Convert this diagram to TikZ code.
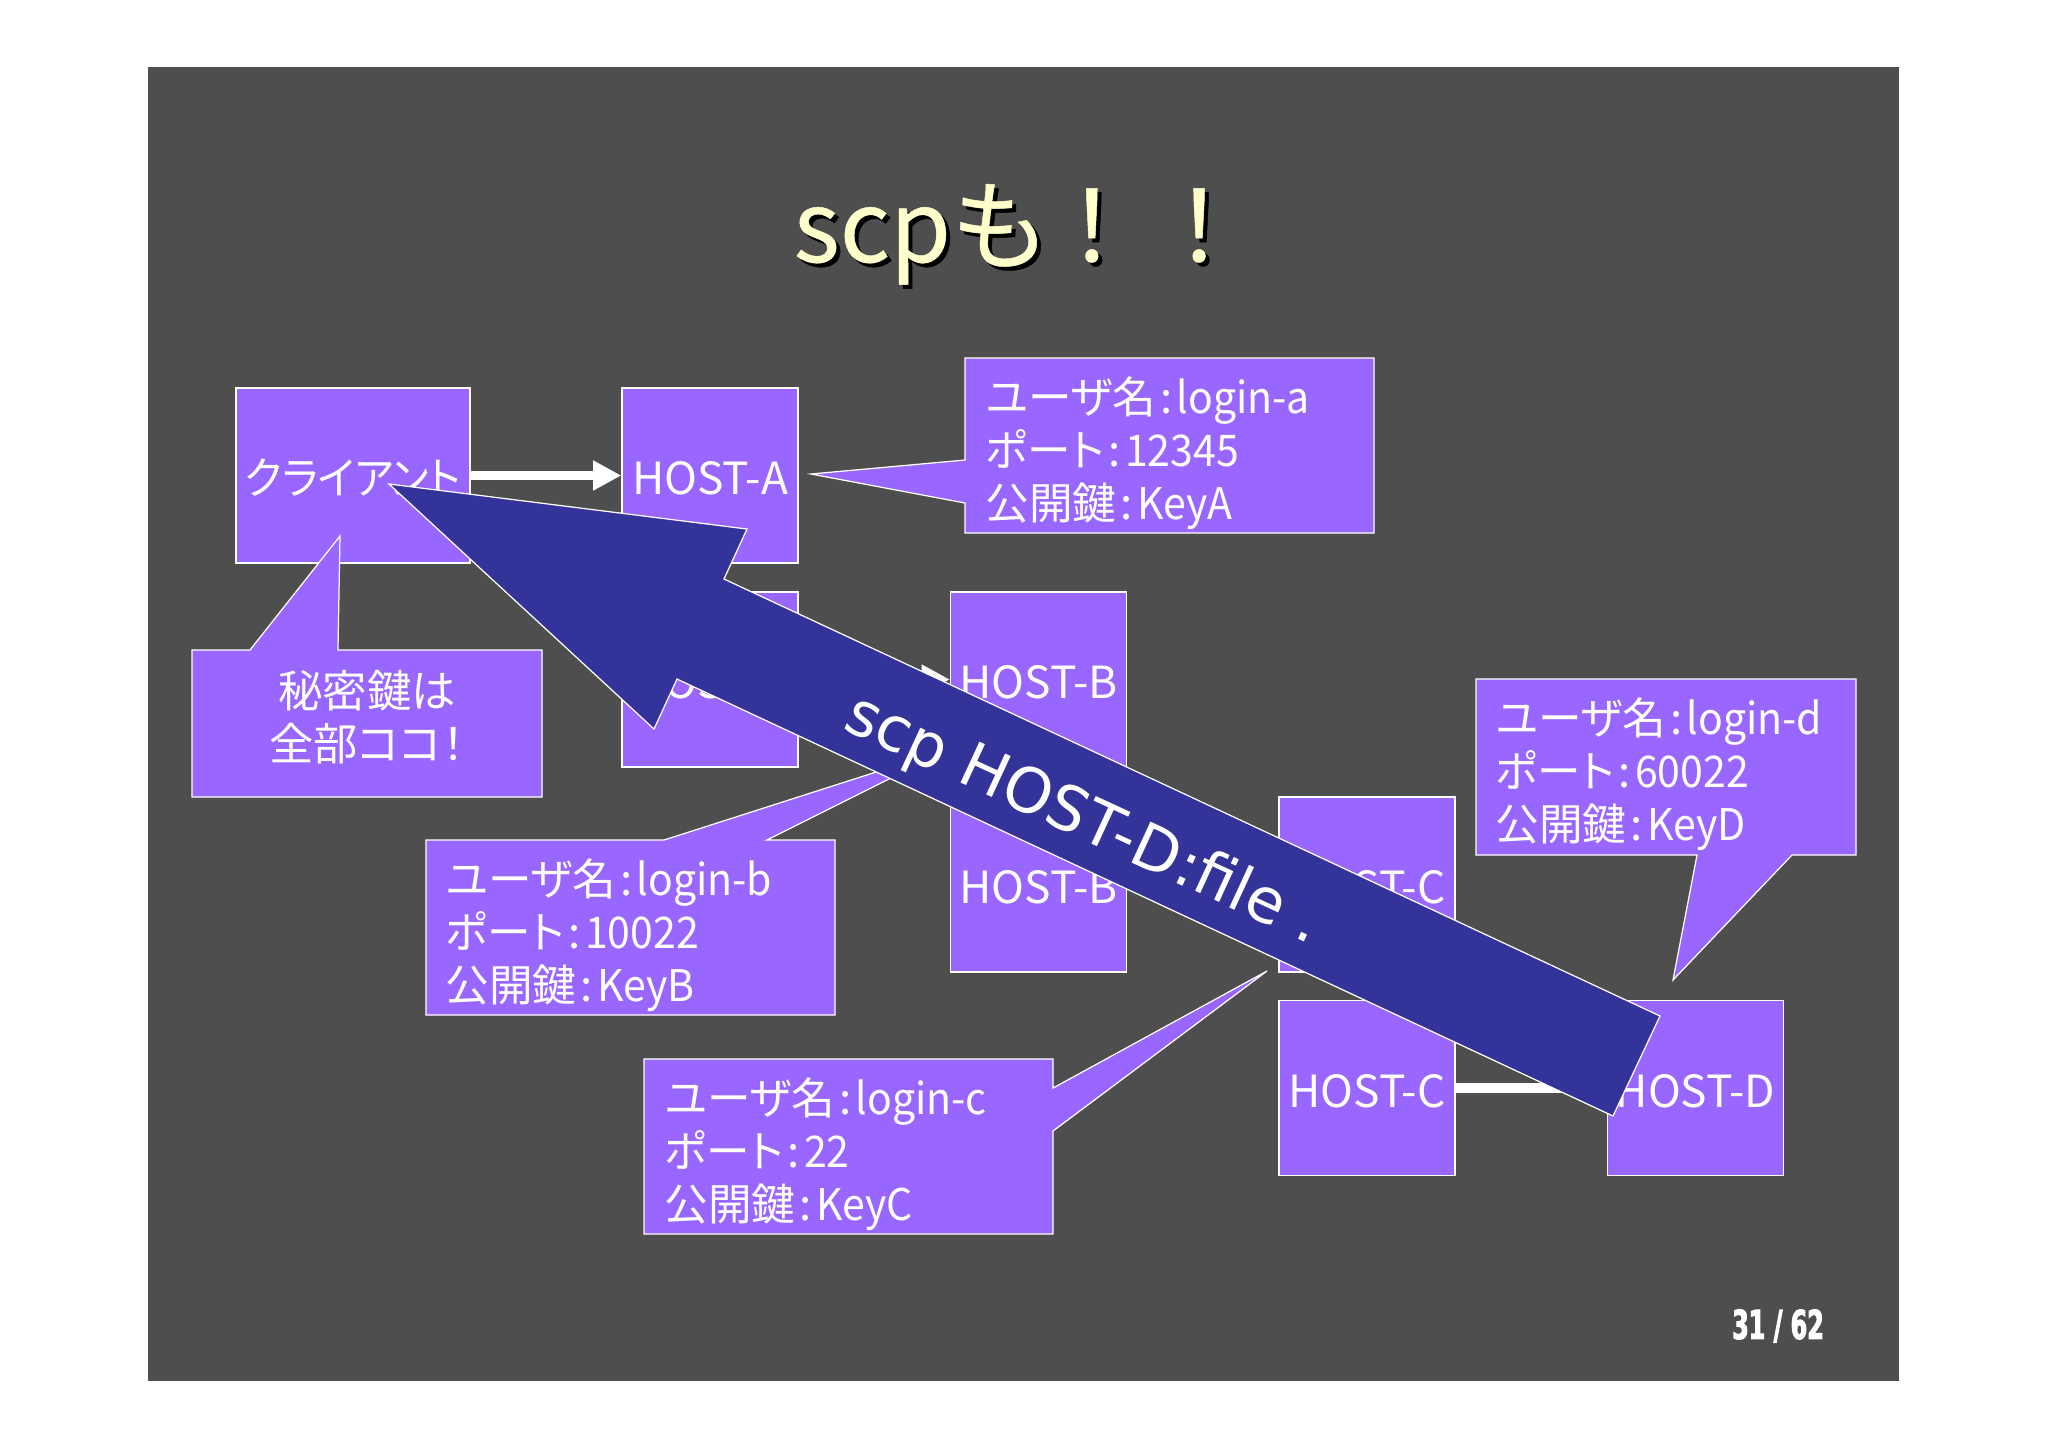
\documentclass[tikz,border=0pt]{standalone}
\usepackage{fontspec}
\usetikzlibrary{arrows.meta}
\setmainfont{Noto Sans CJK JP}[RawFeature=+palt]
\newfontfamily\titlefont{Noto Sans CJK JP}[FakeBold=0.5]
\newfontfamily\narrowfont{Noto Sans CJK JP}[FakeStretch=0.94,RawFeature=+palt]
\newfontfamily\bannerfont{DejaVu Sans}
\newfontfamily\pagefont{DejaVu Sans}[FakeStretch=0.6,FakeBold=2.5]
\definecolor{slidebg}{HTML}{4F4E4F}
\definecolor{boxfill}{HTML}{9966FF}
\definecolor{arrowfill}{HTML}{333399}
\definecolor{titlecol}{HTML}{FFFFCC}
\newcommand{\csep}{\hspace{0.1em}:\hspace{0.1em}}
\newcommand{\keylines}[3]{ユーザ名\csep{\narrowfont #1}\\ポート\csep{\narrowfont #2}\\公開鍵\csep{\narrowfont #3}}
\newcommand{\titletext}{scpも\hspace{-0.07em}！\hspace{0.09em}！}
\tikzset{
  hostbox/.style={rectangle,draw=white,fill=boxfill,line width=0.35pt,inner sep=0pt,text height=10.8pt,text depth=0pt,
                  minimum width=1.76cm,minimum height=1.75cm,text=white,font=\fontsize{12.6}{15}\selectfont},
  calloutbox/.style={draw=white,fill=boxfill,line width=0.35pt,line join=miter},
  keytext/.style={anchor=west,align=left,inner sep=0pt,text=white,font=\fontsize{12.4}{15}\selectfont},
  titletxt/.style={anchor=base west,inner sep=0pt,font=\titlefont\fontsize{28}{28}\selectfont},
  wire/.style={draw=white,line width=2.7pt,-{Triangle[length=8pt,width=8pt]}}
}
\begin{document}
\begin{tikzpicture}[x=0.01cm,y=-0.01cm]
\useasboundingbox (0,0) rectangle (2048,1447);
\fill[slidebg] (148,67) rectangle (1899,1381);

% title
\node[titletxt,text=black] (titleshadow) at (797,266) {\titletext};
\node[titletxt,text=titlecol] (title) at (793,262) {\titletext};

% hosts
\begin{scope}[every node/.style={hostbox}]
    \node[minimum width=2.34cm] (client) at (353,475.5) {\narrowfont クライアント};
    \node (hosta) at (710,475.5) {HOST-A};
    \node (hostaa) at (710,679.5) {HOST-A};
    \node (hostb) at (1038.5,679.5) {HOST-B};
    \node (hostbb) at (1038.5,884.5) {HOST-B};
    \node (hostc) at (1367,884.5) {HOST-C};
    \node (hostcc) at (1367,1088) {HOST-C};
    \node (hostd) at (1695.5,1088) {HOST-D};
\end{scope}

\draw[wire] (client) -- (hosta);
\draw[wire] (hostaa) -- (hostb);
\draw[wire,shorten >=-1.5pt] (hostcc) -- (hostd);

% callouts
\draw[calloutbox] (192,650) -- (250,650) -- (340,536) -- (338,650) -- (542,650) -- (542,797) -- (192,797) -- cycle;
\node[text=white,align=center,inner sep=0pt,font=\fontsize{12.6}{15}\selectfont] (secret) at (367,717) {秘密鍵は\\全部ココ！};

\draw[calloutbox] (965,358) -- (1374,358) -- (1374,533) -- (965,533) -- (965,503) -- (811,474) -- (965,460) -- cycle;
\node[keytext] (keya) at (985,453) {\keylines{login-a}{12345}{KeyA}};

\draw[calloutbox] (426,840) -- (664,840) -- (951,748) -- (767,840) -- (835,840) -- (835,1015) -- (426,1015) -- cycle;
\node[keytext] (keyb) at (445,935) {\keylines{login-b}{10022}{KeyB}};

\draw[calloutbox] (644,1059) -- (1053,1059) -- (1053,1088) -- (1267,971) -- (1053,1131) -- (1053,1234) -- (644,1234) -- cycle;
\node[keytext] (keyc) at (664,1154) {\keylines{login-c}{22}{KeyC}};

\draw[calloutbox] (1476,679) -- (1856,679) -- (1856,855) -- (1792,855) -- (1673,980) -- (1697,855) -- (1476,855) -- cycle;
\node[keytext] (keyd) at (1495,774) {\keylines{login-d}{60022}{KeyD}};

% big arrow
\draw[fill=arrowfill,draw=white,line width=0.35pt] (389,484) -- (747,529) -- (724,579) -- (1660,1016) -- (1613,1116) -- (677,679) -- (654,729) -- cycle;
\node[rotate=-24.8,text=white,inner sep=0pt,font=\bannerfont\fontsize{17.6}{17.6}\selectfont] (banner) at (1083,821) {scp HOST-D:file .};

\node[text=white,inner sep=0pt,font=\pagefont\bfseries\fontsize{11.3}{11.3}\selectfont] (pageno) at (1778,1326) {31 / 62};
\end{tikzpicture}
\end{document}
